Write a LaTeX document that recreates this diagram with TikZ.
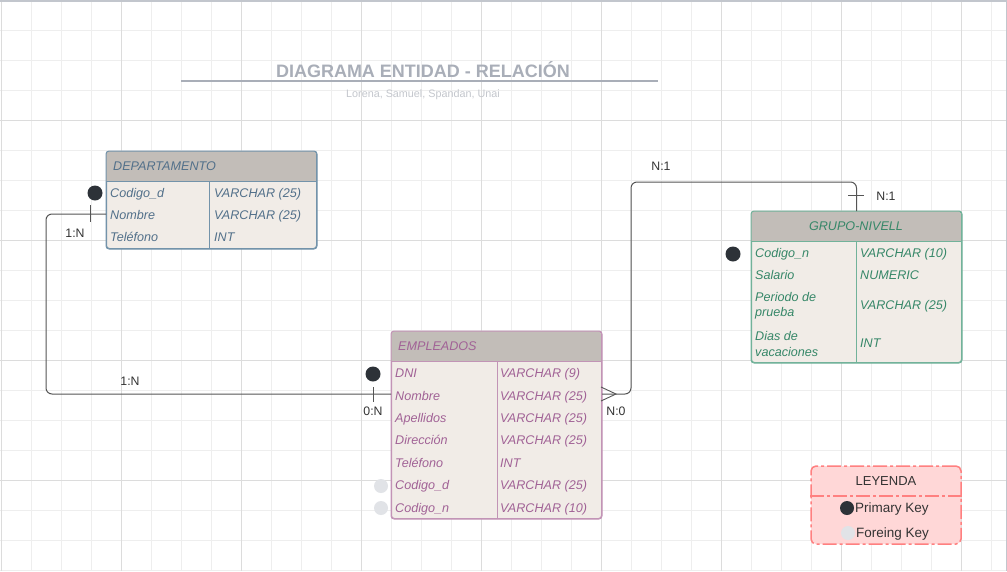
\documentclass[tikz,border=0pt]{standalone}
\usepackage{fontspec}
\setmainfont{Liberation Sans}
\usetikzlibrary{calc}
\definecolor{gridminor}{HTML}{EEEEEE}
\definecolor{gridmajor}{HTML}{DCDCDC}
\definecolor{frame}{HTML}{C2C6CD}
\definecolor{titlegray}{HTML}{A9AEB8}
\definecolor{subgray}{HTML}{C4C7CD}
\definecolor{hdrfill}{HTML}{C2BDB8}
\definecolor{bodyfill}{HTML}{F1ECE7}
\definecolor{depc}{HTML}{52708A}
\definecolor{depb}{HTML}{7393AA}
\definecolor{gruc}{HTML}{368768}
\definecolor{grub}{HTML}{72B29A}
\definecolor{empc}{HTML}{A16296}
\definecolor{empb}{HTML}{C294B6}
\definecolor{pkc}{HTML}{2D3238}
\definecolor{fkc}{HTML}{E1E3E7}
\definecolor{connc}{HTML}{555555}
\definecolor{legfill}{HTML}{FFD7D7}
\definecolor{legb}{HTML}{FF8080}
\definecolor{labc}{HTML}{333333}
\begin{document}
\begin{tikzpicture}[x=1pt,y=-1pt,
  tblbox/.style={draw=#1, fill=bodyfill, line width=1pt, rounded corners=3pt, inner sep=0pt, anchor=north west},
  rowtxt/.style={font=\fontsize{12.6}{14}\selectfont\itshape, text=#1, anchor=west, inner sep=0pt, text height=9pt, text depth=0pt},
  rowtwo/.style={font=\fontsize{12.6}{15.5}\selectfont\itshape, text=#1, anchor=west, inner sep=0pt, align=left},
  pkdot/.style={circle, fill=pkc, minimum size=15pt, inner sep=0pt},
  fkdot/.style={circle, fill=fkc, minimum size=14pt, inner sep=0pt},
  conn/.style={draw=connc, line width=1pt, rounded corners=6pt},
  tick/.style={draw=connc, line width=0.9pt},
  card/.style={font=\fontsize{12.3}{14}\selectfont, text=labc, inner sep=0pt},
  legtxt/.style={font=\fontsize{13.5}{15}\selectfont, text=labc, inner sep=0pt, anchor=west, text height=9.6pt, text depth=0pt}
]
\useasboundingbox (0,0) rectangle (1007,571);
\fill[white] (0,0) rectangle (1007,571);
% grid
\foreach \x in {1,31,...,1001} \draw[gridminor, line width=0.8pt] (\x,0) -- (\x,571);
\foreach \y in {30,60,...,570} \draw[gridminor, line width=0.8pt] (0,\y) -- (1007,\y);
\foreach \x in {1,121,...,961} \draw[gridmajor, line width=0.9pt] (\x,0) -- (\x,571);
\foreach \y in {120,240,...,480} \draw[gridmajor, line width=0.9pt] (0,\y) -- (1007,\y);
\draw[frame, line width=1.5pt] (0,0.75) -- (1006.25,0.75) -- (1006.25,571);

% title
\node[font=\fontsize{18}{20}\selectfont\bfseries, text=titlegray, inner sep=0pt] (title) at (423,70) {DIAGRAMA ENTIDAD - RELACIÓN};
\draw[titlegray, line width=1.8pt] (181,81) -- (658,81);
\node[font=\fontsize{10.8}{12}\selectfont, text=subgray, inner sep=0pt] (sub) at (423,95) {Lorena, Samuel, Spandan, Unai};

% ===== DEPARTAMENTO =====
\node[tblbox=depb, minimum width=210pt, minimum height=97pt] (dep) at (106,151) {};
\begin{scope}
\clip[rounded corners=3pt] (106,151) rectangle (316,248);
\fill[hdrfill] (106,151) rectangle (316,181);
\end{scope}
\draw[depb, line width=1pt] (106,181) -- (316,181) (209,181) -- (209,248);
\draw[depb, line width=1pt, rounded corners=3pt] (dep.north west) rectangle (dep.south east);
\node[rowtxt=depc] (depH) at (113,166) {DEPARTAMENTO};
\node[rowtxt=depc] (depC) at (110,192.5) {Codigo\_d};
\node[rowtxt=depc] (depN) at (110,214.5) {Nombre};
\node[rowtxt=depc] (depT) at (110,237) {Teléfono};
\node[rowtxt=depc] (depCt) at (214,192.5) {VARCHAR (25)};
\node[rowtxt=depc] (depNt) at (214,214.5) {VARCHAR (25)};
\node[rowtxt=depc] (depTt) at (214,237) {INT};

% ===== GRUPO-NIVELL =====
\node[tblbox=grub, minimum width=210pt, minimum height=151pt] (gru) at (751,211) {};
\begin{scope}
\clip[rounded corners=3pt] (751,211) rectangle (961,362);
\fill[hdrfill] (751,211) rectangle (961,241);
\end{scope}
\draw[grub, line width=1pt] (751,241) -- (961,241) (856,241) -- (856,362);
\draw[grub, line width=1pt, rounded corners=3pt] (gru.north west) rectangle (gru.south east);
\node[rowtxt=gruc, anchor=center] (gruH) at (856,226) {GRUPO-NIVELL};
\node[rowtxt=gruc] (gruC) at (755,252.5) {Codigo\_n};
\node[rowtxt=gruc] (gruS) at (755,275) {Salario};
\node[rowtwo=gruc] (gruP) at (755,305.5) {Periodo de\\prueba};
\node[rowtwo=gruc] (gruD) at (755,344) {Dias de\\vacaciones};
\node[rowtxt=gruc] (gruCt) at (860,252.5) {VARCHAR (10)};
\node[rowtxt=gruc] (gruSt) at (860,275) {NUMERIC};
\node[rowtxt=gruc] (gruPt) at (860,305) {VARCHAR (25)};
\node[rowtxt=gruc] (gruDt) at (860,343) {INT};

% ===== EMPLEADOS =====
\node[tblbox=empb, minimum width=210pt, minimum height=187pt] (emp) at (391,331) {};
\begin{scope}
\clip[rounded corners=3pt] (391,331) rectangle (601,518);
\fill[hdrfill] (391,331) rectangle (601,361);
\end{scope}
\draw[empb, line width=1pt] (391,361) -- (601,361) (497,361) -- (497,518);
\draw[empb, line width=1pt, rounded corners=3pt] (emp.north west) rectangle (emp.south east);
\node[rowtxt=empc] (empH) at (398,346) {EMPLEADOS};
\node[rowtxt=empc] (empD) at (395,373) {DNI};
\node[rowtxt=empc] (empN) at (395,395.5) {Nombre};
\node[rowtxt=empc] (empA) at (395,417.5) {Apellidos};
\node[rowtxt=empc] (empR) at (395,440) {Dirección};
\node[rowtxt=empc] (empT) at (395,462.5) {Teléfono};
\node[rowtxt=empc] (empCd) at (395,485) {Codigo\_d};
\node[rowtxt=empc] (empCn) at (395,507.5) {Codigo\_n};
\node[rowtxt=empc] (empDt) at (500,373) {VARCHAR (9)};
\node[rowtxt=empc] (empNt) at (500,395.5) {VARCHAR (25)};
\node[rowtxt=empc] (empAt) at (500,417.5) {VARCHAR (25)};
\node[rowtxt=empc] (empRt) at (500,440) {VARCHAR (25)};
\node[rowtxt=empc] (empTt) at (500,462.5) {INT};
\node[rowtxt=empc] (empCdt) at (500,485) {VARCHAR (25)};
\node[rowtxt=empc] (empCnt) at (500,507.5) {VARCHAR (10)};

% key dots
\node[pkdot] (pk1) at (95,193) {};
\node[pkdot] (pk2) at (733,254) {};
\node[pkdot] (pk3) at (373,374) {};
\node[fkdot] (fk1) at (381,486) {};
\node[fkdot] (fk2) at (381,508) {};

% connector DEPARTAMENTO - EMPLEADOS
\coordinate (a1) at (dep.west |- 0,214);
\coordinate (a2) at (emp.west |- 0,394);
\draw[conn] (a1) -- (46,214) -- (46,394) -- (a2);
\draw[tick] (90,205) -- (90,222);
\draw[tick] (373,387) -- (373,402);
\node[card] (c1) at (75,233) {1:N};
\node[card] (c2) at (130,381) {1:N};
\node[card] (c3) at (373,411) {0:N};

% connector EMPLEADOS - GRUPO-NIVELL
\coordinate (b1) at (emp.east |- 0,394);
\draw[conn] (b1) -- (631,394) -- (631,182) -- (gru.north |- 0,182) -- (gru.north);
\draw[tick] (601,387) -- (616,394) -- (601,401);
\draw[tick] (848,195) -- (864,195);
\node[card] (c4) at (616,411) {N:0};
\node[card] (c5) at (661,166) {N:1};
\node[card] (c6) at (886,196) {N:1};

% legend
\node[draw=legb, fill=legfill, line width=1.5pt, rounded corners=5pt,
      dash pattern=on 14pt off 3pt on 3pt off 3pt,
      minimum width=150pt, minimum height=78pt, inner sep=0pt] (leg) at (886,505) {};
\draw[legb, line width=1.5pt, dash pattern=on 14pt off 3pt on 3pt off 3pt] (leg.west |- 0,496) -- (leg.east |- 0,496);
\node[font=\fontsize{13}{15}\selectfont, text=labc, inner sep=0pt] (legT) at (886,481) {LEYENDA};
\node[pkdot, minimum size=14pt] (legpk) at (847,508) {};
\node[legtxt] (legP) at (855,508) {Primary Key};
\node[fkdot] (legfk) at (848,533) {};
\node[legtxt] (legF) at (856,532.5) {Foreing Key};
\end{tikzpicture}
\end{document}
